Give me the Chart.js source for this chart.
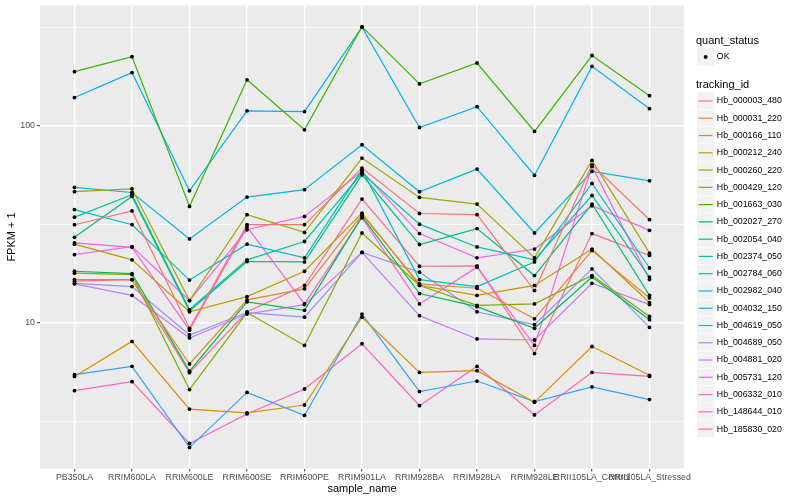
<!DOCTYPE html>
<html>
<head>
<meta charset="utf-8">
<script src="https://cdn.jsdelivr.net/npm/chart.js@4.4.0/dist/chart.umd.min.js"></script>
<style>
  html, body { margin: 0; padding: 0; background: #fff; }
</style>
</head>
<body>
<canvas id="chart" width="800" height="500"></canvas>
<script>
// samples on the x axis
const samples = ['PB350LA', 'RRIM600LA', 'RRIM600LE', 'RRIM600SE', 'RRIM600PE', 'RRIM901LA',
  'RRIM928BA', 'RRIM928LA', 'RRIM928LE', 'RRII105LA_Control', 'RRII105LA_Stressed'];

// FPKM + 1 per gene, one value per sample
const Hb_000003_480 = [31.5, 37.0, 9.4, 31.5, 31.5, 61.0, 35.9, 35.4, 14.6, 63.4, 33.4];
const Hb_000031_220 = [16.6, 16.6, 6.2, 13.1, 14.9, 35.4, 15.8, 15.0, 10.5, 23.3, 13.4];
const Hb_000166_110 = [5.36, 8.07, 3.66, 3.5, 3.84, 10.7, 5.62, 5.73, 3.96, 7.6, 5.43];
const Hb_000212_240 = [25.1, 20.9, 11.4, 13.6, 18.3, 36.1, 15.5, 13.8, 15.5, 23.7, 12.7];
const Hb_000260_220 = [46.3, 47.9, 13.0, 35.4, 28.8, 68.6, 43.3, 40.1, 21.4, 66.7, 22.6];
const Hb_000429_120 = [17.9, 17.6, 4.6, 11.3, 7.7, 28.6, 15.5, 12.3, 12.5, 17.4, 10.8];
const Hb_001663_030 = [188, 224, 39.0, 171, 95.4, 318, 163, 208, 93.6, 227, 142];
const Hb_002027_270 = [18.3, 17.8, 5.7, 12.8, 11.6, 34.7, 14.1, 12.1, 9.4, 17.1, 10.4];
const Hb_002054_040 = [27.2, 43.8, 11.5, 20.5, 20.4, 56.4, 25.0, 30.1, 17.4, 40.1, 13.8];
const Hb_002374_050 = [34.4, 44.7, 11.7, 20.9, 25.9, 57.6, 31.7, 24.3, 20.9, 44.3, 17.1];
const Hb_002784_060 = [37.6, 31.5, 16.5, 25.1, 21.4, 59.8, 16.6, 15.3, 20.4, 51.0, 19.0];
const Hb_002982_040 = [48.7, 45.9, 26.7, 43.5, 47.4, 80.1, 46.3, 60.3, 28.6, 58.7, 52.6];
const Hb_004032_150 = [139, 186, 46.8, 119, 118, 316, 98.0, 125, 56.0, 200, 122];
const Hb_004619_050 = [5.47, 6.03, 2.34, 4.45, 3.4, 11.1, 4.49, 5.08, 4.0, 4.74, 4.09];
const Hb_004689_050 = [15.9, 15.3, 8.7, 11.3, 10.7, 22.8, 18.1, 11.4, 9.8, 18.8, 9.5];
const Hb_004881_020 = [15.8, 13.8, 8.4, 11.1, 12.4, 22.8, 10.9, 8.3, 8.2, 15.9, 12.4];
const Hb_005731_120 = [22.2, 24.4, 13.0, 29.7, 34.7, 58.7, 28.4, 21.4, 23.7, 39.3, 29.5];
const Hb_006332_010 = [25.5, 24.2, 9.2, 30.7, 12.5, 34.1, 12.5, 19.2, 7.7, 62.2, 16.6];
const Hb_148644_010 = [4.54, 5.04, 2.45, 3.46, 4.63, 7.85, 3.81, 6.03, 3.42, 5.62, 5.36];
const Hb_185830_020 = [16.3, 16.6, 5.6, 11.4, 15.5, 42.5, 19.4, 19.5, 7.0, 28.4, 22.0];

const trackingIds = ['Hb_000003_480', 'Hb_000031_220', 'Hb_000166_110', 'Hb_000212_240', 'Hb_000260_220',
  'Hb_000429_120', 'Hb_001663_030', 'Hb_002027_270', 'Hb_002054_040', 'Hb_002374_050', 'Hb_002784_060',
  'Hb_002982_040', 'Hb_004032_150', 'Hb_004619_050', 'Hb_004689_050', 'Hb_004881_020', 'Hb_005731_120',
  'Hb_006332_010', 'Hb_148644_010', 'Hb_185830_020'];
const seriesValues = [Hb_000003_480, Hb_000031_220, Hb_000166_110, Hb_000212_240, Hb_000260_220,
  Hb_000429_120, Hb_001663_030, Hb_002027_270, Hb_002054_040, Hb_002374_050, Hb_002784_060,
  Hb_002982_040, Hb_004032_150, Hb_004619_050, Hb_004689_050, Hb_004881_020, Hb_005731_120,
  Hb_006332_010, Hb_148644_010, Hb_185830_020];

// y axis breaks
const yTickLabels = [10, 100];
const yMinorBreaks = [3.162, 31.62, 316.2];
const statusLevels = ['OK'];

// ggplot default hue palette for 20 levels
const lineColors = ['#F8766D', '#EA8331', '#D89000', '#C09B00', '#A3A500', '#7CAE00', '#39B600', '#00BB4E',
  '#00BF7D', '#00C1A3', '#00BFC4', '#00BAE0', '#00B0F6', '#35A2FF', '#9590FF', '#C77CFF', '#E76BF3',
  '#FA62DB', '#FF62BC', '#FF6C91'];

const FONT = "'Liberation Sans', Arial, sans-serif";

const panelBg = {
  id: 'panelBg',
  beforeDraw(chart) {
    const { ctx, chartArea: a } = chart;
    ctx.save();
    ctx.fillStyle = '#EBEBEB';
    ctx.fillRect(a.left, a.top, a.right - a.left, a.bottom - a.top);
    ctx.restore();
  }
};

// geom_point layer drawn on top of all lines
const blackPoints = {
  id: 'blackPoints',
  afterDatasetsDraw(chart) {
    const ctx = chart.ctx;
    ctx.save();
    ctx.fillStyle = '#000';
    chart.data.datasets.forEach((ds, k) => {
      chart.getDatasetMeta(k).data.forEach(pt => {
        ctx.beginPath();
        ctx.arc(pt.x, pt.y, 1.9, 0, Math.PI * 2);
        ctx.fill();
      });
    });
    ctx.restore();
  }
};

const ggLegend = {
  id: 'ggLegend',
  afterDraw(chart) {
    const ctx = chart.ctx;
    const x0 = 697, key = 17.3;
    ctx.save();
    ctx.textBaseline = 'middle';
    ctx.textAlign = 'left';
    ctx.fillStyle = '#000';
    ctx.font = '11px ' + FONT;
    ctx.fillText('quant_status', x0 - 1, 41);
    statusLevels.forEach((s, i) => {
      const cy = 57 + i * key;
      ctx.fillStyle = '#F2F2F2';
      ctx.fillRect(x0, cy - key / 2, key, key);
      ctx.fillStyle = '#000';
      ctx.beginPath();
      ctx.arc(x0 + key / 2, cy, 1.9, 0, Math.PI * 2);
      ctx.fill();
      ctx.font = '8.8px ' + FONT;
      ctx.fillText(s, x0 + key + 2.5, cy);
    });
    ctx.font = '11px ' + FONT;
    ctx.fillText('tracking_id', x0 - 1, 84.5);
    trackingIds.forEach((id, i) => {
      const cy = 101 + i * 17.27;
      ctx.fillStyle = '#F2F2F2';
      ctx.fillRect(x0, cy - key / 2, key, key - 0.6);
      ctx.strokeStyle = lineColors[i];
      ctx.lineWidth = 1.2;
      ctx.beginPath();
      ctx.moveTo(x0 + 1.7, cy);
      ctx.lineTo(x0 + key - 1.7, cy);
      ctx.stroke();
      ctx.fillStyle = '#000';
      ctx.font = '8.8px ' + FONT;
      ctx.fillText(id, x0 + key + 2.5, cy);
    });
    ctx.restore();
  }
};

const isMajorY = v => yTickLabels.includes(v);

new Chart(document.getElementById('chart'), {
  type: 'line',
  data: {
    datasets: trackingIds.map((id, k) => ({
      label: id,
      data: seriesValues[k].map((v, i) => ({ x: i, y: v })),
      borderColor: lineColors[k],
      backgroundColor: lineColors[k],
      borderWidth: 1.2,
      pointRadius: 0,
      pointHoverRadius: 0,
      tension: 0,
      fill: false
    }))
  },
  options: {
    responsive: false,
    animation: false,
    layout: { padding: { left: 0, top: 5.5, right: 116, bottom: 0 } },
    plugins: {
      legend: { display: false },
      tooltip: { enabled: false }
    },
    scales: {
      x: {
        type: 'linear',
        min: -0.6,
        max: samples.length - 0.4,
        afterBuildTicks: sc => { sc.ticks = samples.map((s, i) => ({ value: i })); },
        afterFit: sc => { sc.height = 31.5; sc.paddingLeft = 0; sc.paddingRight = 0; },
        ticks: {
          autoSkip: false,
          maxRotation: 0,
          minRotation: 0,
          padding: 1,
          color: '#4D4D4D',
          font: { family: FONT, size: 8.8 },
          callback: v => samples[v]
        },
        grid: { color: '#FFFFFF', lineWidth: 1.4, drawTicks: true, tickLength: 3, tickColor: '#333333', tickWidth: 1 },
        border: { display: false },
        title: {
          display: true,
          text: 'sample_name',
          color: '#000',
          font: { family: FONT, size: 11 },
          padding: { top: 0, bottom: 4 }
        }
      },
      y: {
        type: 'logarithmic',
        min: 1.83,
        max: 407,
        afterBuildTicks: sc => {
          sc.ticks = [...yMinorBreaks, ...yTickLabels].sort((a, b) => a - b).map(v => ({ value: v }));
        },
        afterFit: sc => { sc.width = 40; sc.paddingTop = 0; sc.paddingBottom = 0; },
        ticks: {
          padding: 2,
          color: '#4D4D4D',
          font: { family: FONT, size: 8.8 },
          callback: v => (isMajorY(v) ? String(v) : '')
        },
        grid: {
          color: '#FFFFFF',
          lineWidth: c => (c.tick && isMajorY(c.tick.value) ? 1.4 : 0.7),
          drawTicks: true,
          tickLength: 3,
          tickColor: c => (c.tick && isMajorY(c.tick.value) ? '#333333' : 'rgba(0,0,0,0)'),
          tickWidth: 1
        },
        border: { display: false },
        title: {
          display: true,
          text: 'FPKM + 1',
          color: '#000',
          font: { family: FONT, size: 11 },
          padding: { top: 5, bottom: 0 }
        }
      }
    }
  },
  plugins: [panelBg, blackPoints, ggLegend]
});
</script>
</body>
</html>
